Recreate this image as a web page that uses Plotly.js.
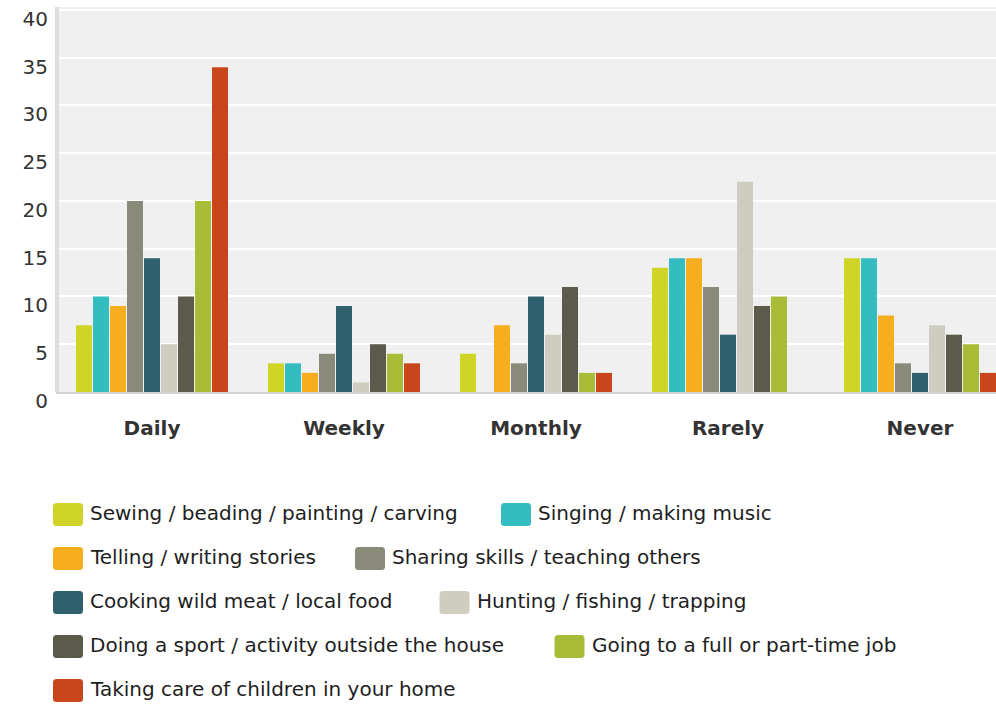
<!DOCTYPE html>
<html>
<head>
<meta charset="utf-8">
<script src="https://cdn.plot.ly/plotly-3.0.1.min.js"></script>
<style>
  html, body { margin: 0; padding: 0; background: #ffffff; overflow: hidden; }
  #chart { width: 996px; height: 705px; }
</style>
</head>
<body>
<div id="chart"></div>
<script>
// ---- Data ----
const categories = ['Daily', 'Weekly', 'Monthly', 'Rarely', 'Never'];

const seriesNames = [
  'Sewing / beading / painting / carving',
  'Singing / making music',
  'Telling / writing stories',
  'Sharing skills / teaching others',
  'Cooking wild meat / local food',
  'Hunting / fishing / trapping',
  'Doing a sport / activity outside the house',
  'Going to a full or part-time job',
  'Taking care of children in your home'
];

const sewing   = [7, 3, 4, 13, 14];
const singing  = [10, 3, 0, 14, 14];
const telling  = [9, 2, 7, 14, 8];
const sharing  = [20, 4, 3, 11, 3];
const cooking  = [14, 9, 10, 6, 2];
const hunting  = [5, 1, 6, 22, 7];
const sport    = [10, 5, 11, 9, 6];
const job      = [20, 4, 2, 10, 5];
const children = [34, 3, 2, 0, 2];

const yTickVals = [0, 5, 10, 15, 20, 25, 30, 35, 40];

// ---- Styles ----
const seriesValues = [sewing, singing, telling, sharing, cooking, hunting, sport, job, children];
const colors = ['#cfd427', '#33bdc0', '#f7ae1e', '#8a8a7a', '#2e606e', '#cfcdbf', '#5c5a4a', '#a9bc38', '#c9451b'];

const W = 996, H = 705;
const M = { l: 56, r: 0, t: 7, b: 313 };
const PW = W - M.l - M.r, PH = H - M.t - M.b;
const px2x = px => (px - M.l) / PW;
const py2y = py => (H - M.b - py) / PH;

const traces = seriesNames.map((name, i) => ({
  type: 'bar',
  name: name,
  x: categories,
  y: seriesValues[i],
  marker: { color: colors[i] },
  hoverinfo: 'x+y+name',
  showlegend: false
}));

// ---- Custom legend (rounded swatches + text) ----
const legendRows = [[0, 1], [2, 3], [4, 5], [6, 7], [8]];
const legendRowX = [[53, 501], [53, 355], [53, 439.5], [53, 554.5], [53]];
const legendRowTop = 514.5, legendRowStep = 44;
const swW = 30, swH = 23, swR = 3.5;

function roundRectPath(x0, y0, x1, y1, r) {
  const X = px2x, Y = py2y;
  return 'M' + X(x0 + r) + ',' + Y(y0) +
    ' L' + X(x1 - r) + ',' + Y(y0) +
    ' Q' + X(x1) + ',' + Y(y0) + ' ' + X(x1) + ',' + Y(y0 + r) +
    ' L' + X(x1) + ',' + Y(y1 - r) +
    ' Q' + X(x1) + ',' + Y(y1) + ' ' + X(x1 - r) + ',' + Y(y1) +
    ' L' + X(x0 + r) + ',' + Y(y1) +
    ' Q' + X(x0) + ',' + Y(y1) + ' ' + X(x0) + ',' + Y(y1 - r) +
    ' L' + X(x0) + ',' + Y(y0 + r) +
    ' Q' + X(x0) + ',' + Y(y0) + ' ' + X(x0 + r) + ',' + Y(y0) + ' Z';
}

const shapes = [];
const annotations = [];

// left axis rule (drawn just inside the plot edge, as in the reference)
shapes.push({
  type: 'line', xref: 'paper', yref: 'paper',
  x0: px2x(57), x1: px2x(57), y0: 0, y1: 1,
  line: { color: '#dedede', width: 4 }, layer: 'above'
});

legendRows.forEach((row, ri) => {
  const cy = legendRowTop + ri * legendRowStep;
  row.forEach((si, ci) => {
    const sx = legendRowX[ri][ci];
    shapes.push({
      type: 'path', xref: 'paper', yref: 'paper',
      path: roundRectPath(sx, cy - swH / 2, sx + swW, cy + swH / 2, swR),
      fillcolor: colors[si], line: { width: 0 }, layer: 'above'
    });
    annotations.push({
      xref: 'paper', yref: 'paper',
      x: px2x(sx + 35), y: py2y(cy - 2),
      xanchor: 'left', yanchor: 'middle',
      text: seriesNames[si], showarrow: false,
      font: { family: 'DejaVu Sans', size: 20, color: '#1e1e1e' }
    });
  });
});

const layout = {
  width: W, height: H,
  margin: M,
  paper_bgcolor: '#ffffff',
  plot_bgcolor: '#f0f0f0',
  showlegend: false,
  barmode: 'group',
  bargap: 0.203,
  bargroupgap: 0.06,
  font: { family: 'DejaVu Sans', size: 20, color: '#333333' },
  xaxis: {
    type: 'category',
    range: [-0.5, -0.5 + PW / 192],
    showgrid: false,
    zeroline: false,
    showline: true, linecolor: '#d2d2d2', linewidth: 2,
    ticks: '',
    ticklabelstandoff: 17,
    tickfont: { family: 'DejaVu Sans', size: 20, color: '#333333', weight: 'bold' },
    fixedrange: true
  },
  yaxis: {
    range: [0, 40.3],
    tickvals: yTickVals,
    ticktext: yTickVals.map(String),
    showgrid: true, gridcolor: '#ffffff', gridwidth: 2,
    zeroline: false,
    showline: false,
    ticks: '',
    ticklabelstandoff: 7,
    ticklabelshift: 9,
    tickfont: { family: 'DejaVu Sans', size: 20, color: '#333333' },
    fixedrange: true
  },
  shapes: shapes,
  annotations: annotations
};

Plotly.newPlot('chart', traces, layout, { displayModeBar: false, staticPlot: true });
</script>
</body>
</html>
